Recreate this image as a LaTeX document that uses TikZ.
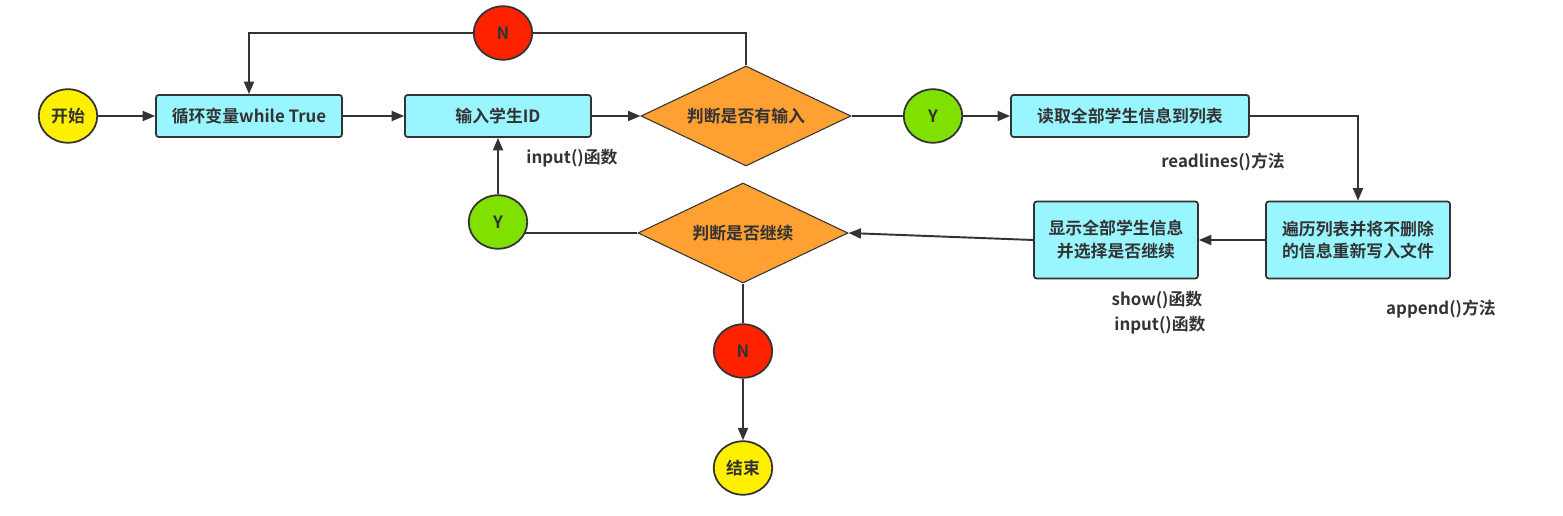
\documentclass[tikz,border=0pt]{standalone}
\usepackage{fontspec}
\setmainfont{Noto Sans CJK SC}[BoldFont={Noto Sans CJK SC Bold}]
\usepackage{tikz}
\usetikzlibrary{arrows.meta, shapes.geometric}

\definecolor{linegray}{HTML}{333333}
\definecolor{termyellow}{HTML}{FFF000}
\definecolor{boxcyan}{HTML}{99F5FF}
\definecolor{askorange}{HTML}{FFA033}
\definecolor{nored}{HTML}{FF2200}
\definecolor{yesgreen}{HTML}{80E000}

\begin{document}
\begin{tikzpicture}[x=0.02cm, y=-0.02cm]
            \tikzstyle{every node}+=[inner sep=0pt, text=linegray, font=\fontsize{9.6}{13}\selectfont\bfseries]
            \tikzstyle{term}=[ellipse, draw=linegray, line width=1pt, fill=termyellow, minimum width=1.17cm, minimum height=1.07cm]
            \tikzstyle{proc}=[rectangle, rounded corners=1.5pt, draw=linegray, line width=1pt, fill=boxcyan, minimum height=0.84cm, align=center]
            \tikzstyle{ask}=[diamond, shape aspect=2.1, draw=linegray, line width=0.6pt, fill=askorange, minimum width=4.2cm, minimum height=2cm]
            \tikzstyle{mark no}=[term, fill=nored]
            \tikzstyle{mark yes}=[term, fill=yesgreen]
            \tikzstyle{flow}=[draw=linegray, line width=1.1pt, -{Triangle[length=0.25cm, width=0.2cm]}]
            \tikzstyle{plain}=[draw=linegray, line width=1.1pt]
            \useasboundingbox (0, 0) rectangle (1563, 516);
            \node [term] (start) at (68, 116) {开始};
            \node [proc, minimum width=3.72cm] (loop) at (249, 116) {循环变量while True};
            \node [proc, minimum width=3.72cm] (input) at (498, 116) {输入学生ID};
            \node [ask] (has) at (746, 116) {判断是否有输入};
            \node [mark no] (ntop) at (503, 33) {N};
            \node [mark yes] (yhas) at (933, 116) {Y};
            \node [proc, minimum width=4.76cm] (read) at (1130, 116) {读取全部学生信息到列表};
            \node [proc, minimum width=3.68cm, minimum height=1.54cm] (trav) at (1358, 240) {遍历列表并将不删除\\的信息重新写入文件};
            \node [proc, minimum width=3.28cm, minimum height=1.54cm] (show) at (1116, 240) {显示全部学生信息\\并选择是否继续};
            \node [ask] (cont) at (743, 233) {判断是否继续};
            \node [mark yes] (ycont) at (498, 222) {Y};
            \node [mark no] (nend) at (743, 351) {N};
            \node [term] (end) at (743, 468) {结束};
            \draw (572, 158) node (lblinput) {input()函数};
            \draw (1223, 162) node (lblread) {readlines()方法};
            \draw (1157, 300) node (lblshow) {show()函数};
            \draw (1160, 325) node (lblask) {input()函数};
            \draw (1441, 309) node (lblappend) {append()方法};
            \draw [flow] (start) -- (loop);
            \draw [flow] (loop) -- (input);
            \draw [flow] (input) -- (has);
            \draw [plain] (has.north) |- (ntop.east);
            \draw [flow] (ntop.west) -| (loop.north);
            \draw [plain] (has.east) -- (yhas.west);
            \draw [flow] (yhas.east) -- (read.west);
            \draw [flow] (read.east) -| (trav.north);
            \draw [flow] (trav.west) -- (show.east);
            \draw [flow] (show.west) -- (cont.east);
            \draw [plain] (cont.west) -- (cont.west -| ycont.-25);
            \draw [flow] (ycont.north) -- (input.south);
            \draw [plain] (cont.south) -- (nend.north);
            \draw [flow] (nend.south) -- (end.north);
        \end{tikzpicture}
\end{document}
